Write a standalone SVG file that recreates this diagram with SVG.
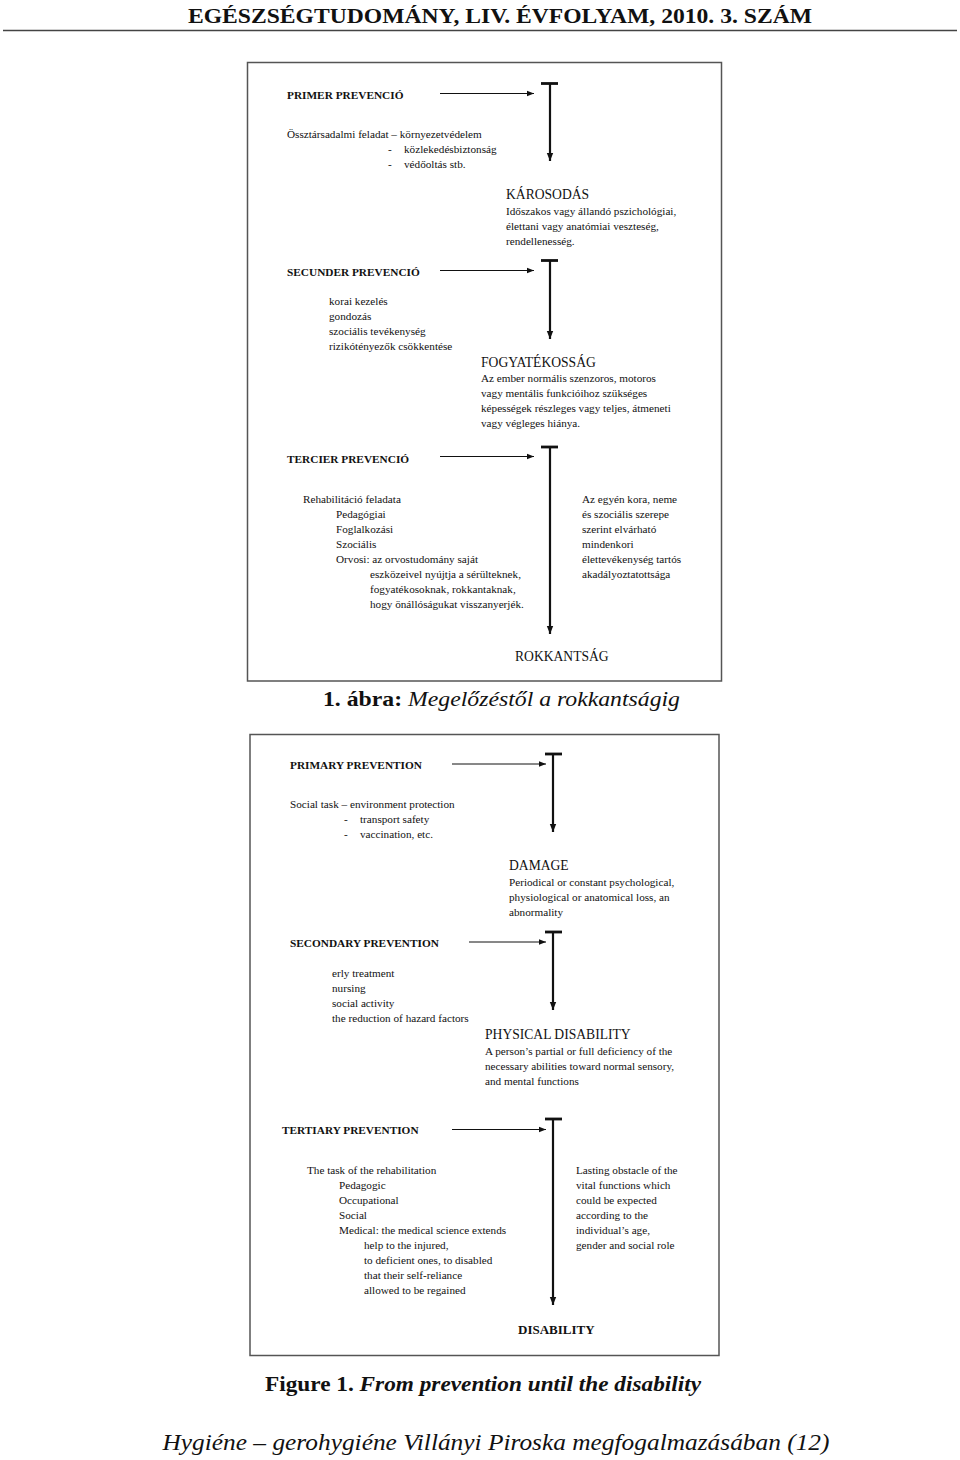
<svg xmlns="http://www.w3.org/2000/svg" width="960" height="1460" viewBox="0 0 960 1460">
<style>
text{font-family:"Liberation Serif","Times New Roman",serif;fill:#111}
.h{font-size:11.3px;font-weight:bold}
.b{font-size:11.2px}
.t{font-size:13.6px}
.frame{fill:none;stroke:#555;stroke-width:1.5}
.arr{stroke:#111;stroke-width:1;fill:none}
.vt{stroke:#111;stroke-width:2.2;fill:none}
.bar{stroke:#111;stroke-width:2.8;fill:none}
</style>
<defs>
<marker id="ah" viewBox="0 0 10 10" refX="10" refY="5" markerWidth="7" markerHeight="7" markerUnits="userSpaceOnUse" orient="auto"><path d="M0,1 L10,5 L0,9 z" fill="#111"/></marker>
<marker id="ahv" viewBox="0 0 10 10" refX="10" refY="5" markerWidth="8" markerHeight="8" markerUnits="userSpaceOnUse" orient="auto"><path d="M0,1 L10,5 L0,9 z" fill="#111"/></marker>
</defs>
<rect width="960" height="1460" fill="#fff"/>
<g id="header">
<text x="500" y="23" text-anchor="middle" font-size="21" font-weight="bold" textLength="624" lengthAdjust="spacingAndGlyphs">EGÉSZSÉGTUDOMÁNY, LIV. ÉVFOLYAM, 2010. 3. SZÁM</text>
<line x1="3" y1="30.5" x2="957" y2="30.5" stroke="#444" stroke-width="1.5"/>
</g>
<rect class="frame" x="247.5" y="62.5" width="474" height="618.5"/>
<rect class="frame" x="250" y="734.5" width="469" height="621"/>
<g id="connectors">
<line class="arr" x1="440" y1="93.5" x2="534" y2="93.5" marker-end="url(#ah)"/>
<line class="bar" x1="541" y1="83.5" x2="558" y2="83.5"/>
<line class="vt" x1="550" y1="83.5" x2="550" y2="161" marker-end="url(#ahv)"/>
<line class="arr" x1="440" y1="270.5" x2="534" y2="270.5" marker-end="url(#ah)"/>
<line class="bar" x1="541" y1="260.5" x2="558" y2="260.5"/>
<line class="vt" x1="550" y1="260.5" x2="550" y2="339" marker-end="url(#ahv)"/>
<line class="arr" x1="440" y1="456.5" x2="534" y2="456.5" marker-end="url(#ah)"/>
<line class="bar" x1="541" y1="447" x2="558" y2="447"/>
<line class="vt" x1="550" y1="447" x2="550" y2="634" marker-end="url(#ahv)"/>
<line class="arr" x1="452" y1="764" x2="546" y2="764" marker-end="url(#ah)"/>
<line class="bar" x1="545" y1="754" x2="562" y2="754"/>
<line class="vt" x1="553" y1="754" x2="553" y2="832" marker-end="url(#ahv)"/>
<line class="arr" x1="469" y1="942" x2="546" y2="942" marker-end="url(#ah)"/>
<line class="bar" x1="545" y1="932" x2="562" y2="932"/>
<line class="vt" x1="553" y1="932" x2="553" y2="1010" marker-end="url(#ahv)"/>
<line class="arr" x1="452" y1="1129.5" x2="546" y2="1129.5" marker-end="url(#ah)"/>
<line class="bar" x1="545" y1="1119" x2="562" y2="1119"/>
<line class="vt" x1="553" y1="1119" x2="553" y2="1305" marker-end="url(#ahv)"/>
</g>
<g id="primer">
<text class="h" x="287" y="99">PRIMER PREVENCIÓ</text>
<text class="b" x="287" y="138">Össztársadalmi feladat – környezetvédelem</text>
<text class="b" x="388" y="153">-</text><text class="b" x="404" y="153">közlekedésbiztonság</text>
<text class="b" x="388" y="168">-</text><text class="b" x="404" y="168">védőoltás stb.</text>
</g>
<g id="karosodas">
<text class="t" x="506" y="199">KÁROSODÁS</text>
<text class="b" x="506" y="215">Időszakos vagy állandó pszichológiai,</text>
<text class="b" x="506" y="230">élettani vagy anatómiai veszteség,</text>
<text class="b" x="506" y="245">rendellenesség.</text>
</g>
<g id="secunder">
<text class="h" x="287" y="276">SECUNDER PREVENCIÓ</text>
<text class="b" x="329" y="305">korai kezelés</text>
<text class="b" x="329" y="320">gondozás</text>
<text class="b" x="329" y="335">szociális tevékenység</text>
<text class="b" x="329" y="350">rizikótényezők csökkentése</text>
</g>
<g id="fogyatekossag">
<text class="t" x="481" y="367">FOGYATÉKOSSÁG</text>
<text class="b" x="481" y="382">Az ember normális szenzoros, motoros</text>
<text class="b" x="481" y="397">vagy mentális funkcióihoz szükséges</text>
<text class="b" x="481" y="412">képességek részleges vagy teljes, átmeneti</text>
<text class="b" x="481" y="427">vagy végleges hiánya.</text>
</g>
<g id="tercier">
<text class="h" x="287" y="463">TERCIER PREVENCIÓ</text>
<text class="b" x="303" y="503">Rehabilitáció feladata</text>
<text class="b" x="336" y="518">Pedagógiai</text>
<text class="b" x="336" y="533">Foglalkozási</text>
<text class="b" x="336" y="548">Szociális</text>
<text class="b" x="336" y="563">Orvosi: az orvostudomány saját</text>
<text class="b" x="370" y="578">eszközeivel nyújtja a sérülteknek,</text>
<text class="b" x="370" y="593">fogyatékosoknak, rokkantaknak,</text>
<text class="b" x="370" y="608">hogy önállóságukat visszanyerjék.</text>
</g>
<g id="rokkantsag-def">
<text class="b" x="582" y="503">Az egyén kora, neme</text>
<text class="b" x="582" y="518">és szociális szerepe</text>
<text class="b" x="582" y="533">szerint elvárható</text>
<text class="b" x="582" y="548">mindenkori</text>
<text class="b" x="582" y="563">élettevékenység tartós</text>
<text class="b" x="582" y="578">akadályoztatottsága</text>
</g>
<g id="rokkantsag">
<text class="t" x="515" y="661">ROKKANTSÁG</text>
</g>
<g id="caption1">
<text x="501.5" y="706" text-anchor="middle" font-size="22" textLength="357" lengthAdjust="spacingAndGlyphs"><tspan font-weight="bold">1. ábra: </tspan><tspan font-style="italic">Megelőzéstől a rokkantságig</tspan></text>
</g>
<g id="primary">
<text class="h" x="290" y="769">PRIMARY PREVENTION</text>
<text class="b" x="290" y="808">Social task – environment protection</text>
<text class="b" x="344" y="823">-</text><text class="b" x="360" y="823">transport safety</text>
<text class="b" x="344" y="838">-</text><text class="b" x="360" y="838">vaccination, etc.</text>
</g>
<g id="damage">
<text class="t" x="509" y="870">DAMAGE</text>
<text class="b" x="509" y="886">Periodical or constant psychological,</text>
<text class="b" x="509" y="901">physiological or anatomical loss, an</text>
<text class="b" x="509" y="916">abnormality</text>
</g>
<g id="secondary">
<text class="h" x="290" y="947">SECONDARY PREVENTION</text>
<text class="b" x="332" y="977">erly treatment</text>
<text class="b" x="332" y="992">nursing</text>
<text class="b" x="332" y="1007">social activity</text>
<text class="b" x="332" y="1022">the reduction of hazard factors</text>
</g>
<g id="physical-disability">
<text class="t" x="485" y="1039">PHYSICAL DISABILITY</text>
<text class="b" x="485" y="1055">A person’s partial or full deficiency of the</text>
<text class="b" x="485" y="1070">necessary abilities toward normal sensory,</text>
<text class="b" x="485" y="1085">and mental functions</text>
</g>
<g id="tertiary">
<text class="h" x="282" y="1134">TERTIARY PREVENTION</text>
<text class="b" x="307" y="1174">The task of the rehabilitation</text>
<text class="b" x="339" y="1189">Pedagogic</text>
<text class="b" x="339" y="1204">Occupational</text>
<text class="b" x="339" y="1219">Social</text>
<text class="b" x="339" y="1234">Medical: the medical science extends</text>
<text class="b" x="364" y="1249">help  to the injured,</text>
<text class="b" x="364" y="1264">to deficient ones, to disabled</text>
<text class="b" x="364" y="1279">that their self-reliance</text>
<text class="b" x="364" y="1294">allowed to be regained</text>
</g>
<g id="disability-def">
<text class="b" x="576" y="1174">Lasting obstacle of the</text>
<text class="b" x="576" y="1189">vital functions which</text>
<text class="b" x="576" y="1204">could be expected</text>
<text class="b" x="576" y="1219">according to the</text>
<text class="b" x="576" y="1234">individual’s age,</text>
<text class="b" x="576" y="1249">gender and social role</text>
</g>
<g id="disability">
<text x="518" y="1334" font-size="13" font-weight="bold">DISABILITY</text>
</g>
<g id="caption2">
<text x="483" y="1391" text-anchor="middle" font-size="21" textLength="436" lengthAdjust="spacingAndGlyphs"><tspan font-weight="bold">Figure 1. </tspan><tspan font-weight="bold" font-style="italic">From prevention until the disability</tspan></text>
</g>
<g id="footer">
<text x="496" y="1450" text-anchor="middle" font-size="24" font-style="italic" textLength="667" lengthAdjust="spacingAndGlyphs">Hygiéne – gerohygiéne Villányi Piroska megfogalmazásában (12)</text>
</g>
</svg>
